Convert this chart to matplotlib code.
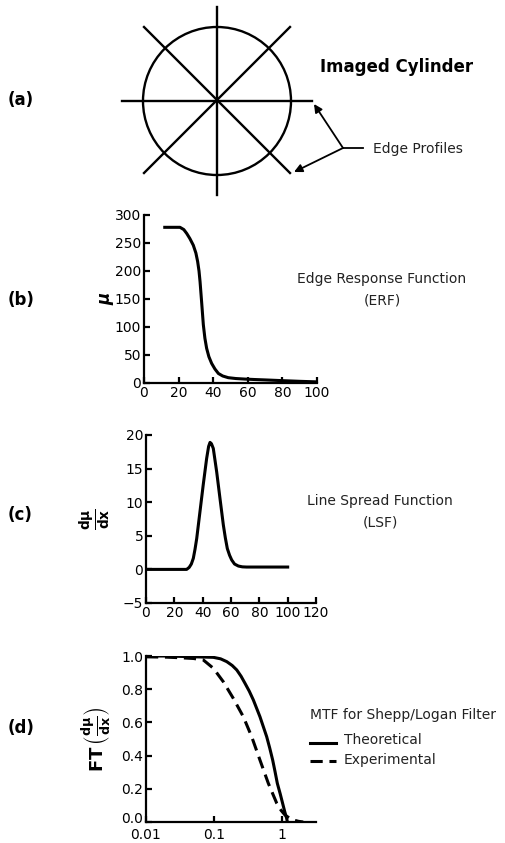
import numpy as np
import matplotlib
matplotlib.use("Agg")
import matplotlib.pyplot as plt
from matplotlib.patches import Circle, FancyArrowPatch
from matplotlib.transforms import ScaledTranslation

plt.rcParams['font.family'] = ['DejaVu Sans']
plt.rcParams['mathtext.fontset'] = 'dejavusans'

# ---- data ----
erf_x = [12, 16, 20.8, 23, 24.7, 26.5, 28.5, 30, 31, 31.8, 32.4, 33.3, 34.3, 35.2, 36.2, 37.5,
         39.1, 41, 43, 45.5, 48.7, 53, 58.4, 64, 70, 80, 90, 100]
erf_y = [278, 278, 278, 274, 267, 258, 246, 232, 217, 200, 181, 145, 104, 80, 62, 47,
         35, 25, 17, 12.5, 9.5, 8, 7, 6.2, 5.5, 4.2, 3, 2]

lsf_x = [0, 28.7, 30.5, 32, 33.4, 34.6, 35.8, 38.1, 40.4, 42.8, 44.2, 45.2, 46.2, 47.5, 49.9,
         52.2, 54.6, 56, 57.4, 59, 60.5, 62.5, 65.2, 68, 71, 100]
lsf_y = [0.0, 0.0, 0.3, 0.8, 1.65, 3.0, 4.6, 8.6, 12.6, 16.5, 18.3, 18.9, 18.7, 18.0, 14.5,
         10.6, 6.6, 4.7, 3.1, 2.1, 1.4, 0.8, 0.5, 0.38, 0.35, 0.35]

mtf_theo_x = [0.01, 0.02, 0.0444, 0.0978, 0.125, 0.154, 0.185, 0.216, 0.25, 0.286, 0.33, 0.379,
              0.474, 0.595, 0.66, 0.729, 0.79, 0.853, 0.94, 1.02, 1.1, 1.17, 1.2]
mtf_theo_y = [1.0, 1.0, 0.996, 0.992, 0.983, 0.966, 0.943, 0.916, 0.878, 0.835, 0.788, 0.735,
              0.634, 0.514, 0.445, 0.373, 0.303, 0.233, 0.17, 0.113, 0.06, 0.022, 0.0]
mtf_exp_x = [0.01, 0.02, 0.03, 0.05, 0.0697, 0.0978, 0.137, 0.192, 0.27, 0.358, 0.474, 0.629,
             0.836, 0.97, 1.107, 1.28, 1.47, 1.75, 2.05]
mtf_exp_y = [0.995, 0.993, 0.99, 0.985, 0.976, 0.926, 0.845, 0.745, 0.634, 0.514, 0.373, 0.233,
             0.113, 0.07, 0.042, 0.024, 0.012, 0.004, 0.0]

erf_xticks = [0, 20, 40, 60, 80, 100]
erf_yticks = [0, 50, 100, 150, 200, 250, 300]
lsf_xticks = [0, 20, 40, 60, 80, 100, 120]
lsf_yticks = [-5, 0, 5, 10, 15, 20]
mtf_xticks = [0.01, 0.1, 1]
mtf_xticklabels = ['0.01', '0.1', '1']
mtf_yticks = [0.0, 0.2, 0.4, 0.6, 0.8, 1.0]

W, H = 505, 843
fig = plt.figure(figsize=(W / 100, H / 100), dpi=100)

# ---- panel (a): diagram in pixel coordinates ----
axa = fig.add_axes([0, 0, 1, 1])
axa.set_xlim(0, W)
axa.set_ylim(H, 0)
axa.axis('off')
axa.set_zorder(5)
axa.patch.set_visible(False)
cx, cy, r = 217, 101, 74
axa.add_patch(Circle((cx, cy), r, fill=False, lw=1.7, color='black'))
axa.plot([cx - 95, cx + 95], [cy, cy], color='black', lw=1.7)
axa.plot([cx, cx], [cy - 94, cy + 94], color='black', lw=1.7)
axa.plot([cx - 73, cx + 73], [cy - 74, cy + 72], color='black', lw=1.7)
axa.plot([cx - 73, cx + 73], [cy + 72, cy - 74], color='black', lw=1.7)
jx, jy = 343, 148
axa.plot([jx, jx + 20], [jy, jy], color='black', lw=1.3)
for tx, ty in [(314, 104), (294, 172)]:
    axa.add_patch(FancyArrowPatch((jx, jy), (tx, ty), arrowstyle='-|>', mutation_scale=12,
                                  color='black', lw=1.3, shrinkA=0, shrinkB=0))
axa.text(397, 67, 'Imaged Cylinder', fontsize=12, fontweight='bold', ha='center', va='center')
axa.text(373, 149, 'Edge Profiles', fontsize=10, ha='left', va='center', color='#222222')
for lab, yy in [('(a)', 100), ('(b)', 300), ('(c)', 515), ('(d)', 728)]:
    axa.text(8, yy, lab, fontsize=12, fontweight='bold', ha='left', va='center')
axa.text(382, 279, 'Edge Response Function', fontsize=10, ha='center', va='center', color='#222222')
axa.text(382, 300, '(ERF)', fontsize=10, ha='center', va='center', color='#222222')
axa.text(380, 501, 'Line Spread Function', fontsize=10, ha='center', va='center', color='#222222')
axa.text(380, 522, '(LSF)', fontsize=10, ha='center', va='center', color='#222222')
axa.text(310, 715, 'MTF for Shepp/Logan Filter', fontsize=10, ha='left', va='center', color='#222222')
axa.plot([310, 336], [743, 743], color='black', lw=2.2)
axa.plot([310, 336], [761, 761], color='black', lw=2.2, dashes=(4, 2.2))
axa.text(344, 740, 'Theoretical', fontsize=10, ha='left', va='center', color='#222222')
axa.text(344, 760, 'Experimental', fontsize=10, ha='left', va='center', color='#222222')


def style(ax):
    ax.patch.set_visible(False)
    for s in ['top', 'right']:
        ax.spines[s].set_visible(False)
    for s in ['left', 'bottom']:
        ax.spines[s].set_linewidth(1.6)
    ax.tick_params(direction='in', length=4, width=1.6, labelsize=10, pad=2)
    ax.tick_params(which='minor', length=0)


def fa(l, t, w, h):
    return [l / W, 1 - (t + h) / H, w / W, h / H]

# ---- panel (b) ----
axb = fig.add_axes(fa(144, 215, 173, 168))
axb.plot(erf_x, erf_y, color='black', lw=2.2, solid_joinstyle='round')
axb.set_xlim(0, 100)
axb.set_ylim(0, 300)
axb.set_xticks(erf_xticks)
axb.set_yticks(erf_yticks)
style(axb)
axb.set_ylabel('μ', fontsize=12, fontweight='bold', style='italic', labelpad=0)

# ---- panel (c) ----
axc = fig.add_axes(fa(146, 435, 170, 168))
axc.plot(lsf_x, lsf_y, color='black', lw=2.2, solid_joinstyle='round')
axc.set_xlim(0, 120)
axc.set_ylim(-5, 20)
axc.set_xticks(lsf_xticks)
axc.set_yticks(lsf_yticks)
style(axc)
axc.set_ylabel(r'$\mathbf{\frac{d\mu}{dx}}$', fontsize=14, labelpad=8)

# ---- panel (d) ----
axd = fig.add_axes(fa(146, 656, 170, 166))
axd.plot(mtf_theo_x, mtf_theo_y, color='black', lw=2.2, solid_joinstyle='round')
axd.plot(mtf_exp_x, mtf_exp_y, color='black', lw=2.2, dashes=(4, 2.2))
axd.set_xscale('log')
axd.set_xlim(0.01, 3.16)
axd.set_ylim(0, 1.0)
axd.set_xticks(mtf_xticks)
axd.set_xticklabels(mtf_xticklabels)
axd.set_yticks(mtf_yticks)
axd.set_yticklabels([f'{v:.1f}' for v in mtf_yticks])
style(axd)
axd.tick_params(axis='x', pad=4)
lab0 = axd.get_yticklabels()[0]
lab0.set_transform(lab0.get_transform() + ScaledTranslation(0, 3 / 72, fig.dpi_scale_trans))
axd.set_ylabel(r'$\mathbf{FT}\,\left(\mathbf{\frac{d\mu}{dx}}\right)$', fontsize=13, labelpad=6)

fig.savefig('out.png', dpi=100, facecolor='white')
